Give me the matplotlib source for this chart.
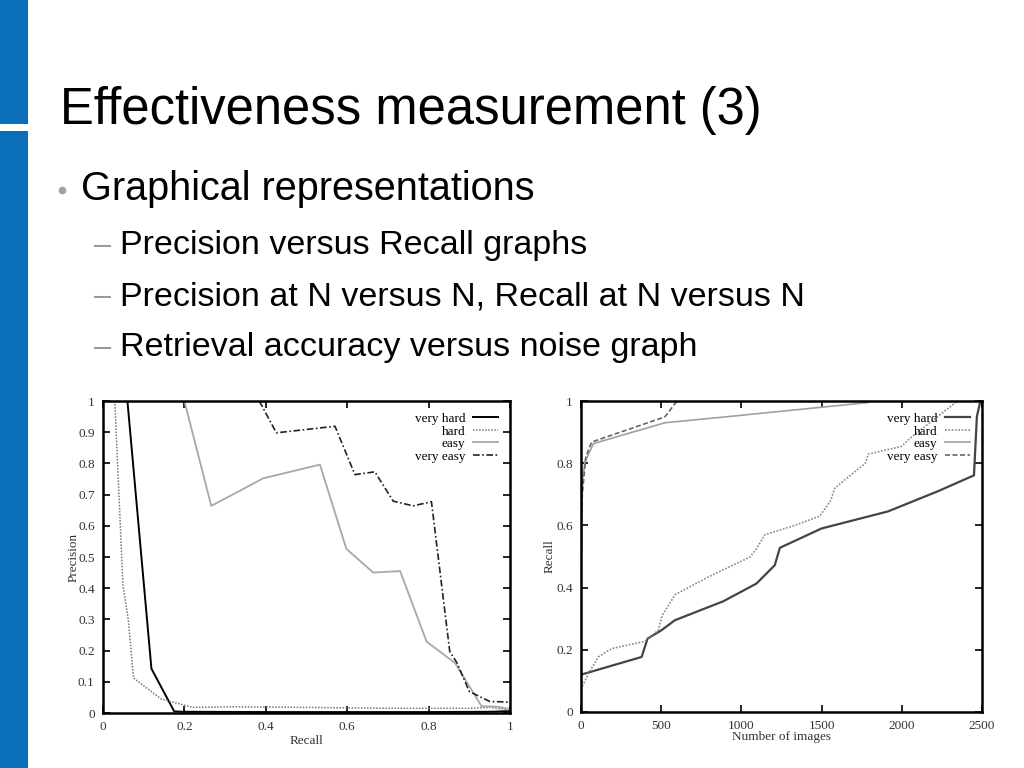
import matplotlib
matplotlib.use("Agg")
import matplotlib.pyplot as plt
from matplotlib.patches import Rectangle
from matplotlib.lines import Line2D

# ---------------- data ----------------
title = "Effectiveness measurement (3)"
bullet = "Graphical representations"
sub_bullets = ["Precision versus Recall graphs",
               "Precision at N versus N, Recall at N versus N",
               "Retrieval accuracy versus noise graph"]

series_names = ["very hard", "hard", "easy", "very easy"]

# Left chart: Precision vs Recall
pr_vh_x = [0.06, 0.119, 0.175, 0.20, 0.40, 0.60, 0.80, 0.95, 1.0]
pr_vh_y = [1.0, 0.142, 0.005, 0.004, 0.003, 0.003, 0.003, 0.004, 0.006]
pr_h_x = [0.029, 0.049, 0.062, 0.075, 0.143, 0.22, 0.33, 0.50, 0.70, 0.90, 0.95, 1.0]
pr_h_y = [1.0, 0.41, 0.30, 0.112, 0.045, 0.018, 0.02, 0.018, 0.015, 0.015, 0.018, 0.01]
pr_e_x = [0.20, 0.266, 0.336, 0.393, 0.533, 0.598, 0.664, 0.73, 0.795, 0.865, 0.93, 0.97, 1.0]
pr_e_y = [1.0, 0.664, 0.712, 0.752, 0.796, 0.526, 0.45, 0.455, 0.229, 0.16, 0.022, 0.02, 0.012]
pr_ve_x = [0.384, 0.426, 0.57, 0.619, 0.668, 0.713, 0.762, 0.807, 0.852, 0.87, 0.90, 0.95, 1.0]
pr_ve_y = [1.0, 0.898, 0.919, 0.764, 0.773, 0.679, 0.664, 0.677, 0.197, 0.16, 0.069, 0.037, 0.035]

# Right chart: Recall vs Number of images
rn_vh_x = [0, 378, 415, 502, 585, 887, 1094, 1208, 1240, 1499, 1914, 2226, 2450, 2468, 2490]
rn_vh_y = [0.12, 0.177, 0.236, 0.263, 0.295, 0.356, 0.413, 0.472, 0.528, 0.59, 0.645, 0.71, 0.761, 0.95, 1.0]
rn_h_x = [0, 46, 108, 191, 399, 482, 507, 586, 793, 1053, 1094, 1146, 1333, 1489, 1557, 1582,
          1773, 1790, 1998, 2060, 2174, 2340]
rn_h_y = [0.073, 0.123, 0.177, 0.204, 0.227, 0.263, 0.311, 0.377, 0.434, 0.498, 0.525, 0.57,
          0.6, 0.63, 0.68, 0.72, 0.8, 0.829, 0.854, 0.884, 0.93, 0.997]
rn_e_x = [0, 10, 25, 77, 523, 959, 1790]
rn_e_y = [0.55, 0.75, 0.804, 0.863, 0.93, 0.952, 0.995]
rn_ve_x = [0, 8, 30, 66, 523, 585, 600]
rn_ve_y = [0.42, 0.70, 0.82, 0.868, 0.949, 0.991, 1.0]

# ---------------- figure ----------------
fig = plt.figure(figsize=(10.24, 7.68), dpi=100)
fig.patch.set_facecolor("white")

W, H = 1024, 768
def fx(px): return px / W
def fy(py): return 1 - py / H

blue = "#0a6fb8"
fig.add_artist(Rectangle((0, fy(124)), fx(28), 124 / H, transform=fig.transFigure,
                         color=blue, lw=0))
fig.add_artist(Rectangle((0, 0), fx(28), fy(131), transform=fig.transFigure,
                         color=blue, lw=0))

sans = ["Liberation Sans", "DejaVu Sans"]
fig.text(fx(60), fy(124), title, fontsize=36.5, family=sans, va="baseline", ha="left")
fig.add_artist(Line2D([fx(61.5)], [fy(189.5)], transform=fig.transFigure, marker="o",
                      markersize=5.5, color="#a0a39c", markeredgewidth=0, linestyle="none"))
fig.text(fx(81), fy(200), bullet, fontsize=28.5, family=sans, va="baseline", ha="left")
for i, s in enumerate(sub_bullets):
    base = 254 + i * 51
    fig.text(fx(94), fy(base), "\u2013", fontsize=22, family=sans, va="baseline",
             ha="left", color="#9a9a9a")
    fig.text(fx(120), fy(base), s, fontsize=24.5, family=sans, va="baseline", ha="left")

serif = ["Liberation Serif", "DejaVu Serif"]
FS = 9.5

def style_axes(ax):
    for sp in ax.spines.values():
        sp.set_linewidth(1.8)
        sp.set_color("black")
    ax.tick_params(direction="in", top=True, right=True, length=5, width=1.2,
                   labelsize=FS, pad=6)
    for lab in ax.get_xticklabels() + ax.get_yticklabels():
        lab.set_family(serif)
        lab.set_color("#333333")

def add_legend(ax):
    ax.legend(loc="upper right", frameon=False, markerfirst=False,
              prop={"family": serif, "size": FS}, handlelength=1.9,
              borderaxespad=0.3, labelspacing=0.02, handletextpad=0.6,
              borderpad=0.6)

# Left chart
ax1 = fig.add_axes([fx(103), fy(713), fx(510) - fx(103), fy(401) - fy(713)])
ax1.plot(pr_vh_x, pr_vh_y, color="black", lw=1.4, label=series_names[0])
ax1.plot(pr_h_x, pr_h_y, color="#777777", lw=1.1, ls=(0, (1, 1)), label=series_names[1])
ax1.plot(pr_e_x, pr_e_y, color="#a8a8a8", lw=1.3, label=series_names[2])
ax1.plot(pr_ve_x, pr_ve_y, color="#222222", lw=1.2, ls=(0, (4, 1.5, 1, 1.5)), label=series_names[3])
ax1.set_xlim(0, 1)
ax1.set_ylim(0, 1)
ax1.set_xticks([0, 0.2, 0.4, 0.6, 0.8, 1])
ax1.set_xticklabels(["0", "0.2", "0.4", "0.6", "0.8", "1"])
ax1.set_yticks([0, 0.1, 0.2, 0.3, 0.4, 0.5, 0.6, 0.7, 0.8, 0.9, 1])
ax1.set_yticklabels(["0", "0.1", "0.2", "0.3", "0.4", "0.5", "0.6", "0.7", "0.8", "0.9", "1"])
ax1.set_xlabel("Recall", family=serif, fontsize=FS, labelpad=1, color="#333333")
ax1.set_ylabel("Precision", family=serif, fontsize=FS, labelpad=-1, color="#333333")
style_axes(ax1)
add_legend(ax1)

# Right chart
ax2 = fig.add_axes([fx(581), fy(712), fx(982) - fx(581), fy(401) - fy(712)])
ax2.plot(rn_vh_x, rn_vh_y, color="#444444", lw=1.6, label=series_names[0])
ax2.plot(rn_h_x, rn_h_y, color="#888888", lw=1.2, ls=(0, (1, 1)), label=series_names[1])
ax2.plot(rn_e_x, rn_e_y, color="#a0a0a0", lw=1.2, label=series_names[2])
ax2.plot(rn_ve_x, rn_ve_y, color="#666666", lw=1.2, ls=(0, (3, 1.5)), label=series_names[3])
ax2.set_xlim(0, 2500)
ax2.set_ylim(0, 1)
ax2.set_xticks([0, 500, 1000, 1500, 2000, 2500])
ax2.set_yticks([0, 0.2, 0.4, 0.6, 0.8, 1])
ax2.set_yticklabels(["0", "0.2", "0.4", "0.6", "0.8", "1"])
ax2.set_xlabel("Number of images", family=serif, fontsize=FS, labelpad=-1, color="#333333")
ax2.set_ylabel("Recall", family=serif, fontsize=FS, labelpad=0, color="#333333")
style_axes(ax2)
add_legend(ax2)

fig.savefig("out.png", dpi=100, facecolor="white")
